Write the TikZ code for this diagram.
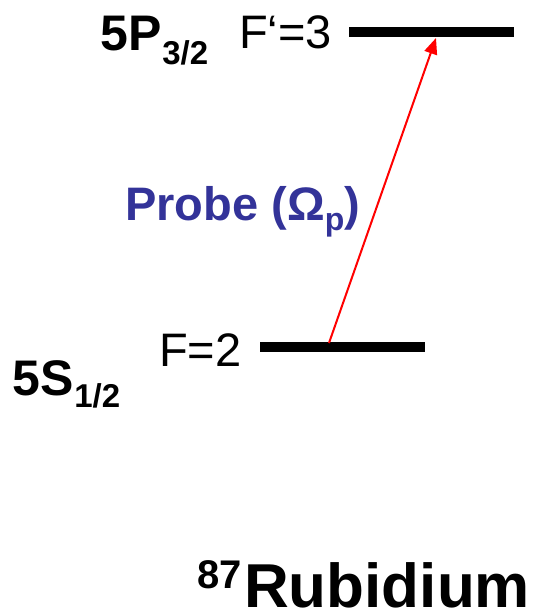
\documentclass[tikz,border=0pt]{standalone}
\usepackage{fontspec}
\setmainfont{Liberation Sans}
\usetikzlibrary{arrows.meta}
\definecolor{probeblue}{HTML}{333399}
\begin{document}
\begin{tikzpicture}[x=1pt,y=-1pt,
  lbl/.style={inner sep=0pt, anchor=base west},
  level/.style={line width=10pt},
  big/.style={font=\fontsize{47}{47}\selectfont},
  bigb/.style={font=\bfseries\fontsize{50}{50}\selectfont},
  probe/.style={red, line width=2pt, -{Triangle[length=16pt,width=13pt]}}]
\useasboundingbox (0,0) rectangle (540,614);
% levels
\coordinate (uL) at (349,31.5); \coordinate (uR) at (514,31.5);
\coordinate (lL) at (260,347);  \coordinate (lR) at (425,347);
\draw[level] (uL) -- (uR);
\draw[level] (lL) -- (lR);
% transition
\coordinate (from) at (329,343);
\coordinate (to) at (436,38);
\draw[probe] (from) -- (to);
% labels
\node[lbl,bigb] (p32) at (100,50) {5P\hspace{1pt}\raisebox{-14pt}{\fontsize{33}{33}\selectfont 3/2}};
\node[lbl,big] (f3) at (239,48) {F‘=3};
\node[lbl,font=\bfseries\fontsize{47}{47}\selectfont, text=probeblue] (pr) at (125,220) {Probe (Ω\raisebox{-10pt}{\fontsize{32}{32}\selectfont p})};
\node[lbl,big] (f2) at (159,366) {F=2};
\node[lbl,bigb] (s12) at (12,395) {5S\hspace{1pt}\raisebox{-12pt}{\fontsize{33}{33}\selectfont 1/2}};
\node[lbl,font=\bfseries\fontsize{40}{40}\selectfont] (iso) at (197,588) {87};
\node[lbl,font=\bfseries\fontsize{62}{62}\selectfont] (rb) at (244,607) {Rubidium};
\end{tikzpicture}
\end{document}
